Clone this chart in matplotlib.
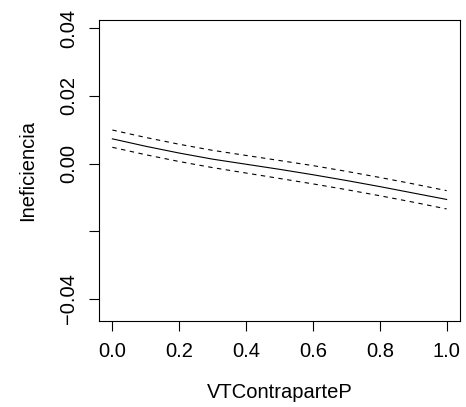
import numpy as np
import matplotlib.pyplot as plt

plt.rcParams['font.family'] = ['Liberation Sans', 'DejaVu Sans']

# values
x = [0.0, 0.1, 0.2, 0.3, 0.4, 0.5, 0.6, 0.7, 0.8, 0.9, 1.0]
fit = [0.0073, 0.0051, 0.0031, 0.0013, -0.0002, -0.0017, -0.0033, -0.0050, -0.0068, -0.0087, -0.0106]
upper = [0.0099, 0.0077, 0.0057, 0.0039, 0.0024, 0.0009, -0.0006, -0.0023, -0.0041, -0.0060, -0.0080]
lower = [0.0048, 0.0026, 0.0006, -0.0012, -0.0028, -0.0044, -0.0060, -0.0077, -0.0095, -0.0114, -0.0134]

xticks = [0.0, 0.2, 0.4, 0.6, 0.8, 1.0]
yticks = [-0.04, -0.02, 0.00, 0.02, 0.04]
ylabels = ['-0.04', '', '0.00', '0.02', '0.04']
ylabels = [s.replace('-', '\u2212') for s in ylabels]

fig = plt.figure(figsize=(4.66, 4.07), dpi=100)
ax = fig.add_axes([99 / 466, 1 - 321 / 407, 361 / 466, 301 / 407])

ax.plot(x, fit, color='black', lw=0.8)
ax.plot(x, upper, color='black', lw=0.8, dashes=(4, 4))
ax.plot(x, lower, color='black', lw=0.8, dashes=(4, 4))

ax.set_xlim(-0.04, 1.04)
ax.set_ylim(-0.0465, 0.0424)

ax.set_xticks(xticks)
ax.set_xticklabels(['0.0', '0.2', '0.4', '0.6', '0.8', '1.0'])
ax.set_yticks(yticks)
ax.set_yticklabels(ylabels, rotation=90, va='center')

ax.tick_params(direction='out', length=7, width=0.8, labelsize=14.5, pad=8)
for s in ax.spines.values():
    s.set_linewidth(0.8)

ax.set_xlabel('VTContraparteP', fontsize=14.5, labelpad=16)
ax.set_ylabel('Ineficiencia', fontsize=14.5, labelpad=16)

fig.savefig('out.png', dpi=100)
